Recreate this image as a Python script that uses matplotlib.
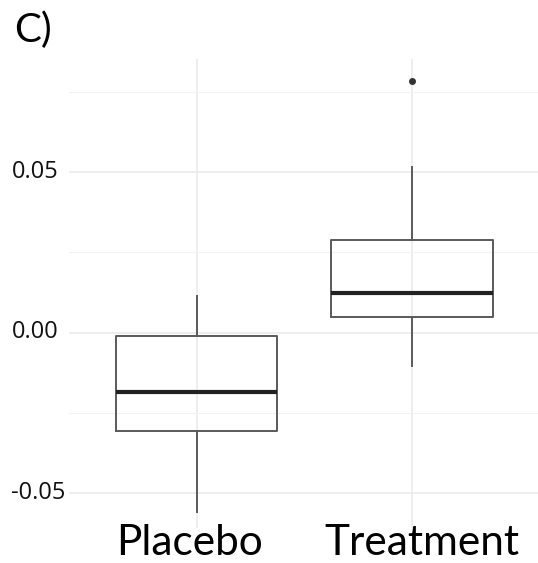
import matplotlib
matplotlib.use("Agg")
import matplotlib.pyplot as plt
import matplotlib.transforms as mtransforms

# ---- data ----
groups = ["Placebo", "Treatment"]
q1 = [-0.0305, 0.0050]
median = [-0.0185, 0.0124]
q3 = [-0.0010, 0.0288]
whislo = [-0.0558, -0.0105]
whishi = [0.0113, 0.0515]
fliers = [[], [0.0785]]
ytick_vals = [-0.05, 0.00, 0.05]
ytick_labels = ["-0.05", "0.00", "0.05"]
minor_vals = [-0.025, 0.025, 0.075]
panel_label = "C)"

W, H = 538, 563
fig = plt.figure(figsize=(W / 100, H / 100), dpi=100)
ax = fig.add_axes([69.3 / W, 1 - 528.3 / H, 1 - 69.3 / W, (528.3 - 59) / H])

stats = []
for i, g in enumerate(groups):
    stats.append(dict(label=g, q1=q1[i], med=median[i], q3=q3[i],
                      whislo=whislo[i], whishi=whishi[i], fliers=fliers[i]))

box_col = "#5a5a5a"
positions = [1, 2]
ax.bxp(stats, positions=positions, widths=0.75, showcaps=False, patch_artist=False,
       boxprops=dict(color=box_col, linewidth=1.4),
       whiskerprops=dict(color=box_col, linewidth=1.4),
       medianprops=dict(color="#222222", linewidth=3.0),
       flierprops=dict(marker="o", markersize=4, markerfacecolor="#333333",
                       markeredgecolor="#333333"))

ax.set_xlim(0.408, 2.585)
ax.set_ylim(-0.0609, 0.0852)

ax.set_yticks(ytick_vals)
ax.set_yticks(minor_vals, minor=True)
ax.set_yticklabels([])
ax.set_xticks(positions)
ax.set_xticklabels([])
ax.tick_params(axis="both", which="both", length=0)

# y value labels, left-aligned at the figure's left margin
yblend = mtransforms.blended_transform_factory(fig.transFigure, ax.transData)
yoff = mtransforms.ScaledTranslation(0, 3.5 / 100, fig.dpi_scale_trans)
for v, t in zip(ytick_vals, ytick_labels):
    ax.text(11.5 / W, v, t, transform=yblend + yoff, family="Open Sans",
            fontsize=17, color="#111111", ha="left", va="center_baseline",
            clip_on=False)

# category labels below the panel (slightly offset as in the reference)
label_dx_px = [-7.5, 9.7]
blend = mtransforms.blended_transform_factory(ax.transData, ax.transAxes)
for pos, g, dx in zip(positions, groups, label_dx_px):
    off = mtransforms.ScaledTranslation(dx / 100, -26.5 / 100, fig.dpi_scale_trans)
    ax.text(pos, 0, g, transform=blend + off, family="Lato", fontsize=30.5,
            ha="center", va="baseline", color="#000000", clip_on=False)

ax.grid(True, which="major", color="#ebebeb", linewidth=1.2)
ax.grid(True, which="minor", axis="y", color="#f2f2f2", linewidth=0.8)
ax.set_axisbelow(True)
for s in ax.spines.values():
    s.set_visible(False)

fig.text(14 / W, 1 - 42 / H, panel_label, family="Lato", fontsize=29,
         ha="left", va="baseline")

fig.savefig("out.png", dpi=100)
